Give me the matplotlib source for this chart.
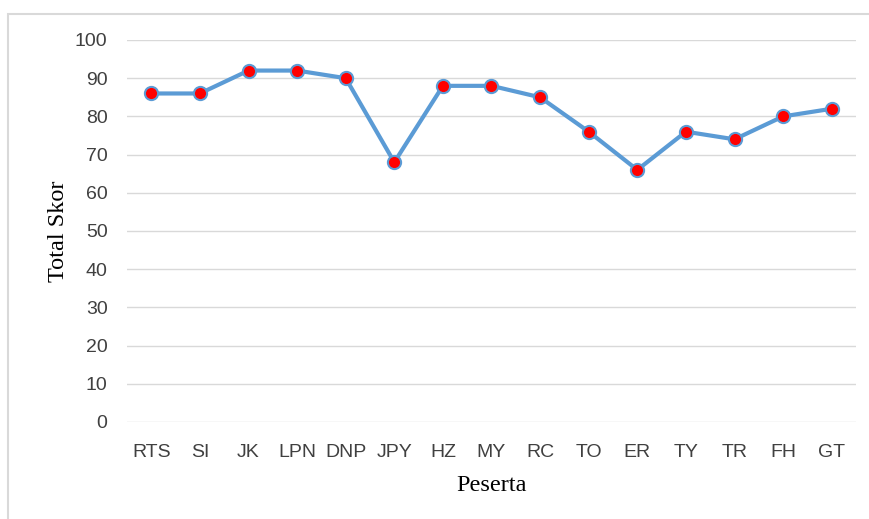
import matplotlib
matplotlib.use("Agg")
import matplotlib.pyplot as plt
from matplotlib.patches import Rectangle
from matplotlib import font_manager

peserta = ["RTS", "SI", "JK", "LPN", "DNP", "JPY", "HZ", "MY", "RC", "TO",
           "ER", "TY", "TR", "FH", "GT"]
skor = [86, 86, 92, 92, 90, 68, 88, 88, 85, 76, 66, 76, 74, 80, 82]
yticks = list(range(0, 101, 10))

names = {f.name for f in font_manager.fontManager.ttflist}
tick_font = "Liberation Sans Narrow" if "Liberation Sans Narrow" in names else "Liberation Sans"

fig = plt.figure(figsize=(8.69, 5.19), dpi=100)
fig.patches.append(Rectangle((8 / 869, -0.1), 1.2, 1 - 14 / 519 + 0.1,
                             transform=fig.transFigure, fill=False,
                             edgecolor="#D9D9D9", linewidth=1.5))
ax = fig.add_axes([127 / 869, 1 - 422 / 519, (856 - 127) / 869, (422 - 40) / 519])

x = range(len(peserta))
ax.plot(x, skor, color="#5B9BD5", linewidth=3, marker="o", markersize=9.5,
        markerfacecolor="#FF0000", markeredgecolor="#5B9BD5", markeredgewidth=1.5,
        zorder=3)

ax.set_xlim(-0.5, len(peserta) - 0.5)
ax.set_ylim(0, 100)
ax.set_yticks(yticks)
ax.set_xticks(list(x))
ax.set_xticklabels(peserta)
ax.grid(axis="y", color="#D9D9D9", linewidth=1)
ax.set_axisbelow(True)
for s in ax.spines.values():
    s.set_visible(False)
ax.tick_params(length=0, labelsize=14, labelcolor="#404040")
ax.tick_params(axis="y", pad=14)
ax.tick_params(axis="x", pad=16)
for lab in ax.get_xticklabels() + ax.get_yticklabels():
    lab.set_family(tick_font)

ax.set_xlabel("Peserta", family="Liberation Serif", fontsize=17.5, labelpad=10)
ax.set_ylabel("Total Skor", family="Liberation Serif", fontsize=17.5, labelpad=4)

fig.savefig("out.png", dpi=100)
